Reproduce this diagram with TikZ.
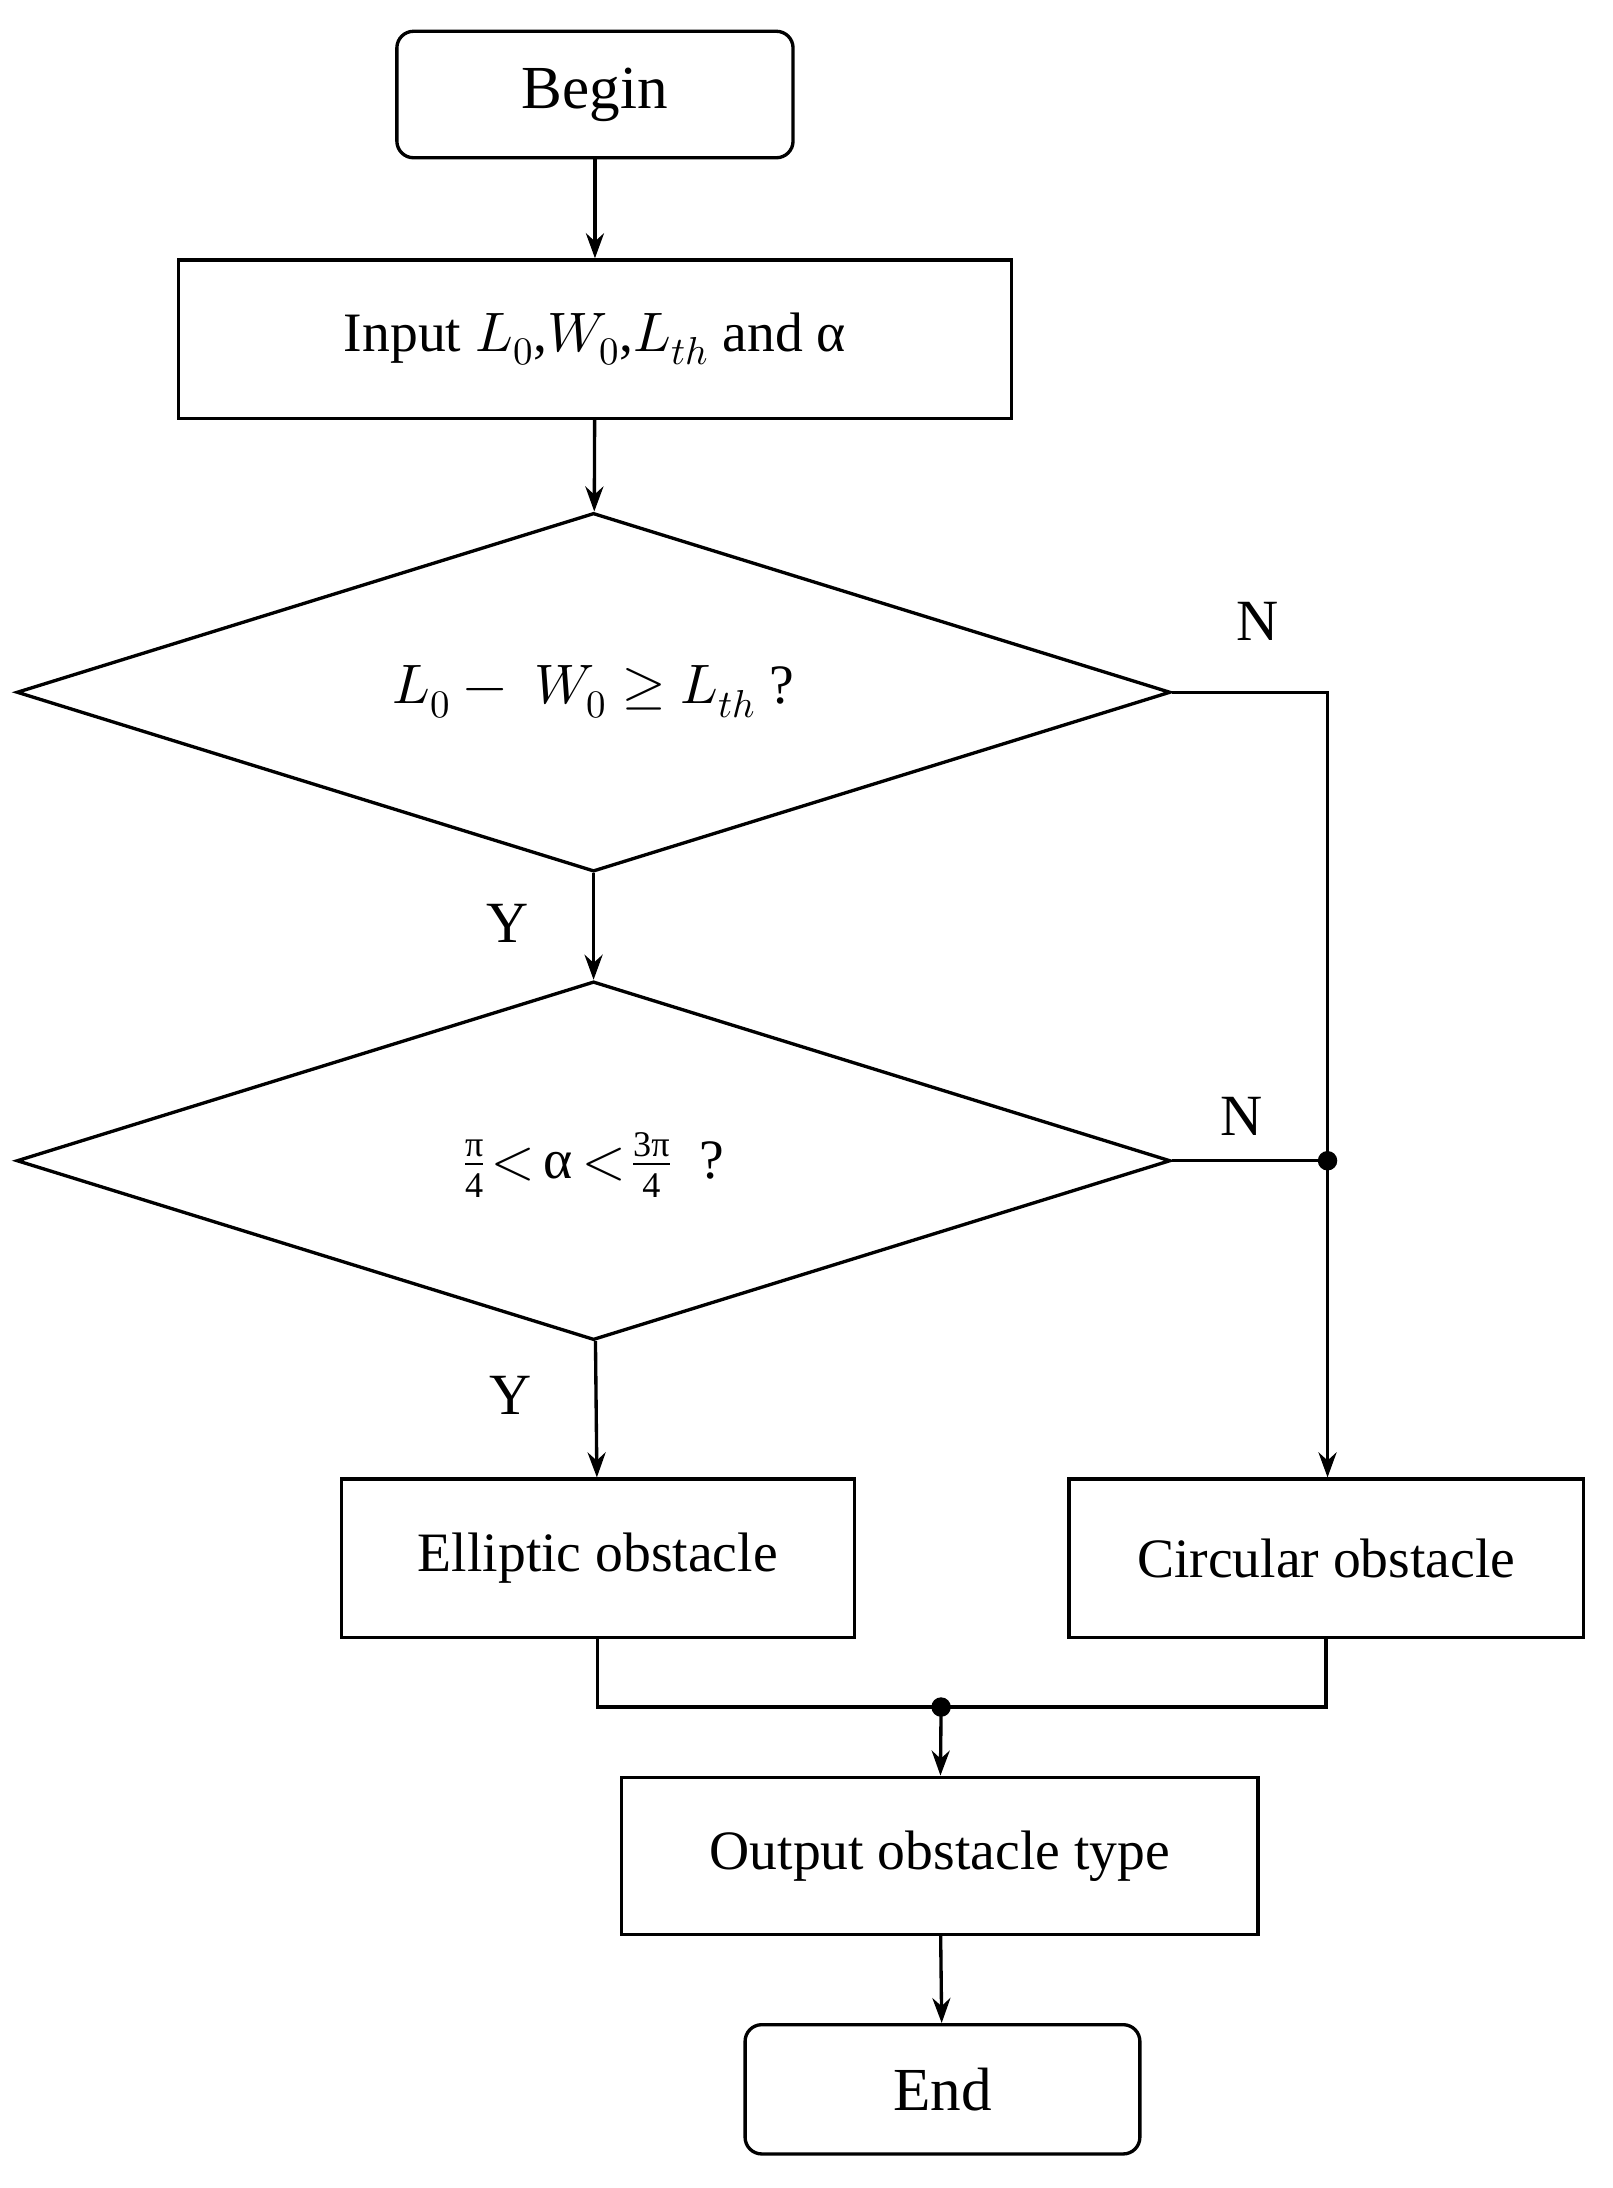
\documentclass[tikz,border=0pt]{standalone}
\usepackage{fix-cm}
\usepackage{unicode-math}
\setmainfont{Liberation Serif}
\setmathfont{Latin Modern Math}
\usetikzlibrary{shapes.geometric,arrows.meta}
\newcommand{\smallpi}[1]{\mbox{\fontsize{26}{28}\selectfont #1}}
\begin{document}
\begin{tikzpicture}[x=1pt,y=-1pt,
  box/.style={draw,line width=2.4pt,rectangle,inner sep=0pt,font=\fontsize{40}{48}\selectfont},
  rbox/.style={box,rounded corners=12pt,font=\fontsize{44}{52}\selectfont},
  dia/.style={draw,line width=2.4pt,diamond,inner sep=0pt,minimum width=830pt,minimum height=258pt},
  txt/.style={font=\fontsize{40}{48}\selectfont},
  arr/.style={line width=2.4pt,-{Stealth[length=18pt,width=13pt]}},
  ln/.style={line width=2.4pt},
  lab/.style={font=\fontsize{42}{50}\selectfont},
  dot/.style={circle,fill,inner sep=0pt,minimum size=14pt}]
\useasboundingbox (0,0) rectangle (1160,1574);
\node[rbox,minimum width=285pt,minimum height=91pt] (begin) at (428,68) {Begin};
\node[box,minimum width=599pt,minimum height=114pt] (input) at (428,244) {Input $L_0$,$W_0$,$L_{th}$ and α};
\node[dia] (d1) at (427,498) {};
\node[txt] (t1) at (427,498) {$L_0-\;W_0\geq L_{th}$ ?};
\node[dia] (d2) at (427,835) {};
\node[txt] (t2) at (427,838) {$\frac{\smallpi{π}}{\smallpi{4}}\!<\,$α$\,<\!\frac{\smallpi{3π}}{\smallpi{4}}$\ \ ?};
\node[box,minimum width=369pt,minimum height=114pt] (ell) at (430,1121) {Elliptic obstacle};
\node[box,minimum width=370pt,minimum height=114pt] (circ) at (954,1121) {Circular obstacle};
\node[box,minimum width=458pt,minimum height=113pt] (out) at (676,1335) {Output obstacle type};
\node[rbox,minimum width=284pt,minimum height=93pt] (end) at (678,1503) {End};
\node[dot] (j1) at (955,835) {};
\node[dot] (j2) at (677,1228) {};
\draw[arr] (begin) -- (input);
\draw[arr] (input) -- (d1);
\draw[arr] (d1) -- (d2);
\draw[arr] (d2) -- (ell);
\draw[ln] (d1.east) -| (j1.center);
\draw[ln] (d2.east) -- (j1.center);
\draw[arr] (j1.center) -- (circ.north -| j1);
\draw[ln] (ell.south) |- (j2.center) -| (circ.south);
\draw[arr] (j2.center) -- (out);
\draw[arr] (out) -- (end);
\node[lab] (n1) at (905,447) {N};
\node[lab] (n2) at (893,803) {N};
\node[lab] (y1) at (365,664) {Y};
\node[lab] (y2) at (367,1004) {Y};
\end{tikzpicture}
\end{document}
